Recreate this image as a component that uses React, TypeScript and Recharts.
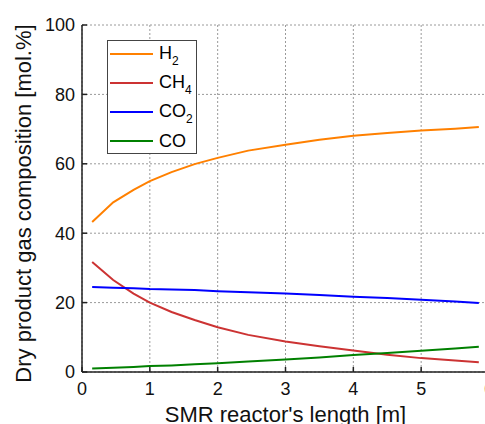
import React from 'react';
import { LineChart, Line, XAxis, YAxis, CartesianGrid, Legend } from 'recharts';

const lengths = [0.15, 0.46, 0.76, 1.0, 1.32, 1.66, 2.0, 2.45, 3.0, 3.5, 4.0, 4.5, 5.0, 5.5, 5.85];
const h2 = [43.2, 48.9, 52.5, 55.0, 57.6, 59.9, 61.7, 63.8, 65.5, 66.9, 68.1, 68.9, 69.6, 70.1, 70.6];
const ch4 = [31.7, 26.5, 22.6, 20.0, 17.3, 15.0, 12.9, 10.7, 8.8, 7.4, 6.2, 5.0, 4.0, 3.3, 2.8];
const co2 = [24.5, 24.3, 24.1, 23.9, 23.8, 23.6, 23.3, 23.0, 22.6, 22.2, 21.7, 21.3, 20.8, 20.3, 19.9];
const co = [1.0, 1.2, 1.45, 1.7, 1.9, 2.2, 2.5, 3.0, 3.6, 4.2, 4.9, 5.5, 6.1, 6.8, 7.25];

const xTicks = [0, 1, 2, 3, 4, 5, 6];
const yTicks = [0, 20, 40, 60, 80, 100];

const seriesKeys = ['H2', 'CH4', 'CO2', 'CO'];
const seriesColors = ['#FF8000', '#CC3333', '#0000FF', '#008000'];

const data = lengths.map((x, i) => ({ x, H2: h2[i], CH4: ch4[i], CO2: co2[i], CO: co[i] }));

const FONT = '"Liberation Sans", Arial, sans-serif';

const formatName = (name: string) => {
  const m = name.match(/^([A-Za-z]+?)(\d*)$/);
  if (!m) return name;
  return (
    <>
      {m[1]}
      {m[2] ? (
        <span style={{ fontSize: 12, position: 'relative', top: 6 }}>{m[2]}</span>
      ) : null}
    </>
  );
};

const LegendBox = () => {
  return (
    <div
      style={{
        border: '1px solid #444',
        background: '#fff',
        width: 90,
        height: 114,
        boxSizing: 'border-box',
        fontFamily: FONT,
        fontSize: 18,
        color: '#000',
      }}
    >
      <div style={{ marginTop: -2 }}>
        {seriesKeys.map((k, i) => (
          <div key={k} style={{ display: 'flex', alignItems: 'center', height: 29 }}>
            <div style={{ width: 43, height: 2, background: seriesColors[i], marginLeft: 2, marginRight: 6 }} />
            <div style={{ lineHeight: '20px' }}>{formatName(k)}</div>
          </div>
        ))}
      </div>
    </div>
  );
};

const NoTick = () => <g />;

export default function App() {
  return (
    <div style={{ position: 'fixed', left: 0, top: 0, width: 485, height: 424, overflow: 'hidden', background: '#fff' }}>
      <LineChart width={500} height={424} data={data} margin={{ top: 25, right: 11, bottom: 0, left: 0 }}>
        <CartesianGrid stroke="#9a9a9a" strokeDasharray="2 2" strokeWidth={1} />
        <XAxis
          dataKey="x"
          type="number"
          domain={[0, 6]}
          ticks={xTicks}
          interval={0}
          height={52}
          tickSize={-5}
          tickMargin={15}
          stroke="#222"
          strokeWidth={1.5}
          tick={{ fontSize: 18, fill: '#111', fontFamily: FONT }}
          label={{
            content: (p: any) => {
              const vb = p.viewBox || {};
              return (
                <text x={vb.x + vb.width / 2} y={vb.y + 50} textAnchor="middle" fontSize={22} fontFamily={FONT} fill="#111">
                  SMR reactor's length [m]
                </text>
              );
            },
          }}
        />
        <XAxis
          xAxisId="top"
          orientation="top"
          dataKey="x"
          type="number"
          domain={[0, 6]}
          ticks={xTicks}
          interval={0}
          height={0}
          tickSize={-5}
          stroke="#222"
          strokeWidth={1.5}
          tick={NoTick}
        />
        <YAxis
          type="number"
          domain={[0, 100]}
          ticks={yTicks}
          interval={0}
          width={82}
          tickSize={-5}
          tickMargin={12}
          stroke="#222"
          strokeWidth={1.5}
          tick={{ fontSize: 18, fill: '#111', fontFamily: FONT }}
          label={{
            content: (p: any) => {
              const vb = p.viewBox || {};
              const cx = vb.x + 31;
              const cy = vb.y + vb.height / 2 + 5;
              return (
                <text
                  x={cx}
                  y={cy}
                  transform={`rotate(-90, ${cx}, ${cy})`}
                  textAnchor="middle"
                  fontSize={22}
                  fontFamily={FONT}
                  fill="#111"
                >
                  Dry product gas composition [mol.%]
                </text>
              );
            },
          }}
        />
        <YAxis
          yAxisId="right"
          orientation="right"
          type="number"
          domain={[0, 100]}
          ticks={yTicks}
          interval={0}
          width={0}
          tickSize={-5}
          stroke="#222"
          strokeWidth={1.5}
          tick={NoTick}
        />
        <Legend
          layout="vertical"
          align="center"
          verticalAlign="middle"
          content={LegendBox}
          wrapperStyle={{ left: 107, top: 40, width: 90, height: 114 }}
        />
        {seriesKeys.map((k, i) => (
          <Line
            key={k}
            type="linear"
            dataKey={k}
            name={k}
            stroke={seriesColors[i]}
            strokeWidth={2}
            dot={false}
            isAnimationActive={false}
          />
        ))}
      </LineChart>
    </div>
  );
}
